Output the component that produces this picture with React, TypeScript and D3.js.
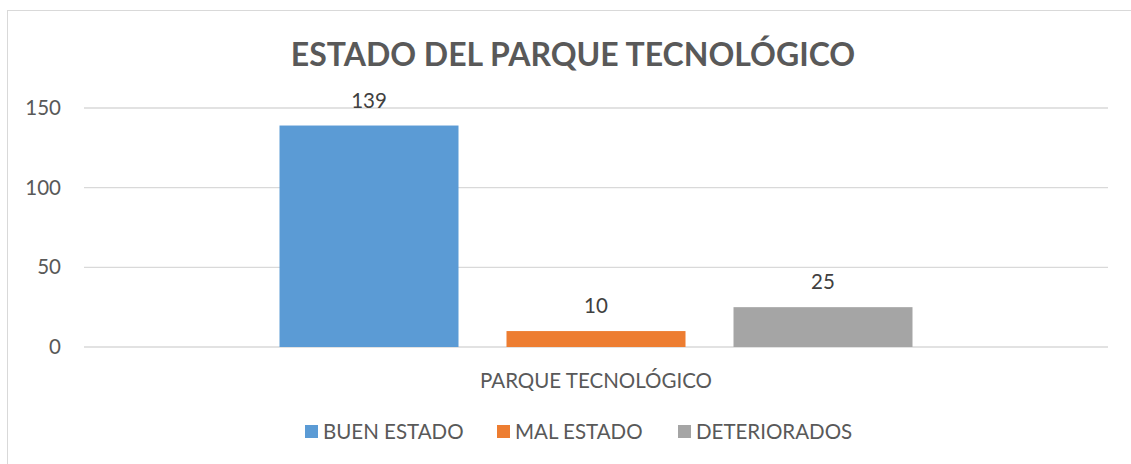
import React from "react";
import * as d3 from "d3";

const title = "ESTADO DEL PARQUE TECNOLÓGICO";
const category = "PARQUE TECNOLÓGICO";
const seriesNames = ["BUEN ESTADO", "MAL ESTADO", "DETERIORADOS"];
const seriesValues = [139, 10, 25];
const seriesColors = ["#5B9BD5", "#ED7D31", "#A5A5A5"];
const yTicks = [0, 50, 100, 150];

const W = 1131;
const H = 464;
const FONT = "Lato, 'Open Sans', sans-serif";
const FS = 20.5;

export default function App() {
  const plotLeft = 84;
  const plotRight = 1108;
  const y = d3.scaleLinear().domain([0, 150]).range([347, 108]);
  const x0 = d3.scaleBand<string>().domain([category]).range([plotLeft, plotRight]).paddingInner(0).paddingOuter(0);
  const groupW = 633;
  const groupStart = (x0(category) as number) + (x0.bandwidth() - groupW) / 2;
  const x1 = d3.scaleBand<string>().domain(seriesNames).range([groupStart, groupStart + groupW]).paddingInner(48 / 227).paddingOuter(0);

  const legendX = [305, 497, 678];

  return (
    <svg width={W} height={H} style={{ position: "absolute", left: 0, top: 0, background: "#fff" }}>
      <rect x={7.5} y={10.5} width={1140} height={480} fill="#fff" stroke="#D9D9D9" strokeWidth={1} />
      <text x={573} y={66} textAnchor="middle" fontFamily={FONT} fontWeight="bold" fontSize={32} fill="#595959">
        {title}
      </text>
      {yTicks.map((t) => (
        <g key={t}>
          <line x1={plotLeft} x2={plotRight} y1={y(t)} y2={y(t)} stroke="#D9D9D9" strokeWidth={1.3} />
          <text x={61} y={y(t) + 7} textAnchor="end" fontFamily={FONT} fontSize={FS} fill="#595959">
            {t}
          </text>
        </g>
      ))}
      {seriesNames.map((s, i) => {
        const bx = x1(s) as number;
        const bw = x1.bandwidth();
        return (
          <g key={s}>
            <rect x={bx} y={y(seriesValues[i])} width={bw} height={y(0) - y(seriesValues[i])} fill={seriesColors[i]} />
            <text x={bx + bw / 2} y={y(seriesValues[i]) - 18} textAnchor="middle" fontFamily={FONT} fontSize={FS} fill="#404040">
              {seriesValues[i]}
            </text>
          </g>
        );
      })}
      <text x={(x0(category) as number) + x0.bandwidth() / 2} y={388} textAnchor="middle" fontFamily={FONT} fontSize={FS} fill="#595959">
        {category}
      </text>
      {seriesNames.map((s, i) => (
        <g key={s}>
          <rect x={legendX[i]} y={425} width={13} height={13} fill={seriesColors[i]} />
          <text x={legendX[i] + 18} y={439} fontFamily={FONT} fontSize={FS} fill="#595959">
            {s}
          </text>
        </g>
      ))}
    </svg>
  );
}
